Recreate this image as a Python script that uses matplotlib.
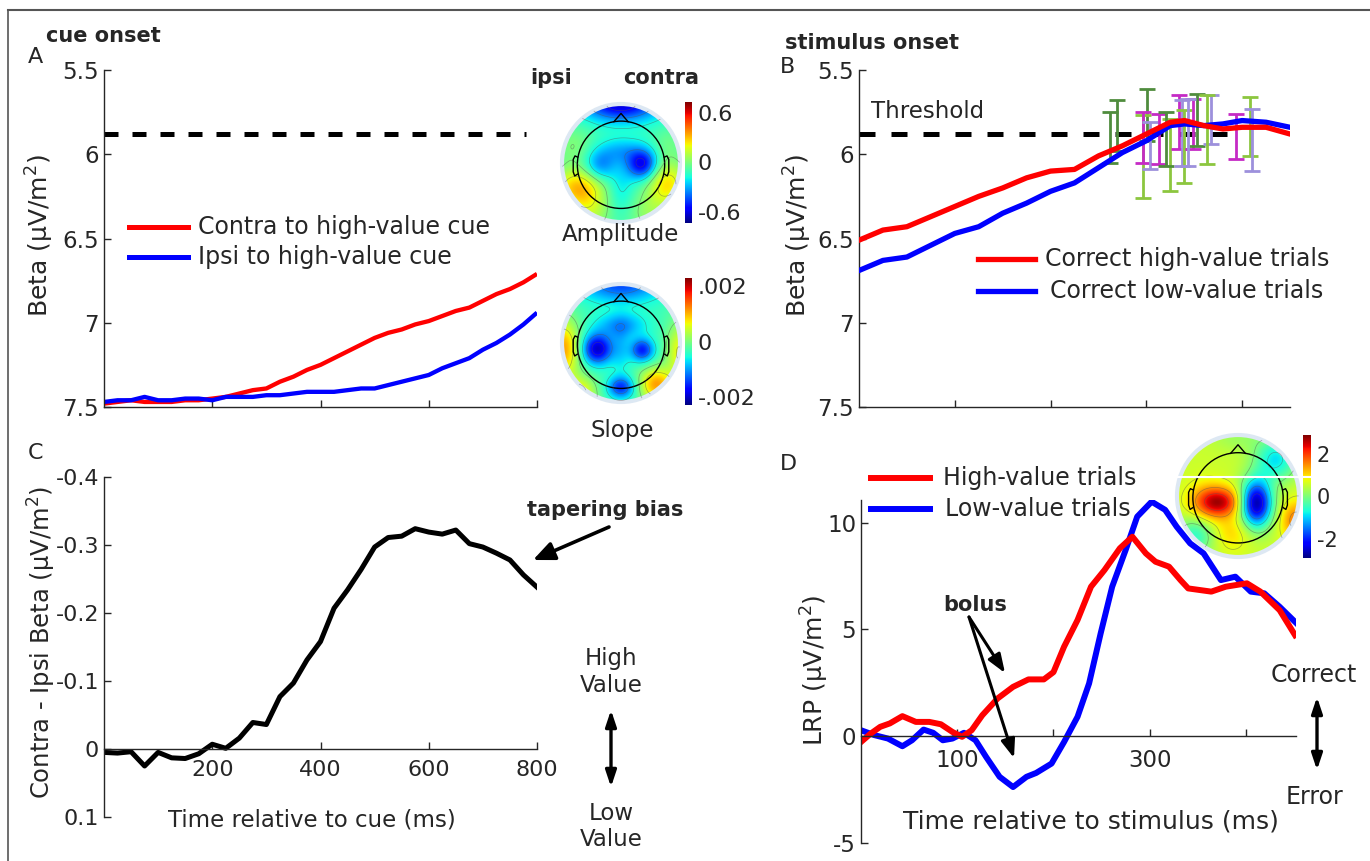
import numpy as np
import matplotlib
matplotlib.use('Agg')
import matplotlib.pyplot as plt
from matplotlib.lines import Line2D
from matplotlib.patches import Circle, FancyArrowPatch

# ---------------- data ----------------
cue_time = [0, 25, 50, 75, 100, 125, 150, 175, 200, 225, 250, 275, 300, 325, 350, 375, 400,
            425, 450, 475, 500, 525, 550, 575, 600, 625, 650, 675, 700, 725, 750, 775, 800]
contra_beta = [7.48, 7.47, 7.46, 7.47, 7.47, 7.47, 7.46, 7.46, 7.45, 7.44, 7.42, 7.40, 7.39,
               7.35, 7.32, 7.28, 7.25, 7.21, 7.17, 7.13, 7.09, 7.06, 7.04, 7.01, 6.99, 6.96,
               6.93, 6.91, 6.87, 6.83, 6.80, 6.76, 6.71]
ipsi_beta = [7.47, 7.46, 7.46, 7.44, 7.46, 7.46, 7.45, 7.45, 7.46, 7.44, 7.44, 7.44, 7.43,
             7.43, 7.42, 7.41, 7.41, 7.41, 7.40, 7.39, 7.39, 7.37, 7.35, 7.33, 7.31, 7.27,
             7.24, 7.21, 7.16, 7.12, 7.07, 7.01, 6.94]
contra_minus_ipsi = [0.005, 0.006, 0.004, 0.025, 0.005, 0.013, 0.014, 0.007, -0.007, -0.001,
                     -0.016, -0.039, -0.036, -0.077, -0.097, -0.131, -0.158, -0.207, -0.234,
                     -0.264, -0.297, -0.311, -0.313, -0.324, -0.319, -0.316, -0.322, -0.302,
                     -0.297, -0.288, -0.278, -0.256, -0.238]
threshold = 5.88

stim_time = [0, 25, 50, 75, 100, 125, 150, 175, 200, 225, 250, 275, 300, 325, 340, 360,
             380, 400, 425, 450]
high_value_beta = [6.51, 6.45, 6.43, 6.37, 6.31, 6.25, 6.20, 6.14, 6.10, 6.09, 6.01, 5.95,
                   5.88, 5.81, 5.80, 5.83, 5.85, 5.84, 5.84, 5.88]
low_value_beta = [6.69, 6.63, 6.61, 6.54, 6.47, 6.43, 6.35, 6.29, 6.22, 6.17, 6.08, 5.99,
                  5.92, 5.83, 5.82, 5.83, 5.82, 5.80, 5.81, 5.84]

eb_time = [262, 269, 301, 297, 297, 304, 313, 325, 321, 334, 337, 339, 349, 353, 344, 367,
           363, 394, 408, 410]
eb_low = [5.75, 5.68, 5.61, 5.77, 5.75, 5.81, 5.76, 5.79, 5.75, 5.65, 5.68, 5.74, 5.67,
          5.64, 5.67, 5.65, 5.65, 5.76, 5.66, 5.73]
eb_high = [6.05, 5.98, 5.92, 6.26, 6.05, 6.09, 6.06, 6.22, 6.07, 5.97, 6.07, 6.17, 5.97,
           5.95, 6.07, 5.94, 6.06, 6.03, 6.01, 6.10]
eb_group = ['dg', 'dg', 'dg', 'lg', 'mg', 'lv', 'mg', 'lg', 'dg', 'mg', 'lv', 'lg', 'mg',
            'dg', 'lv', 'lv', 'lg', 'mg', 'lg', 'lv']

lrp_high_t = [0, 10, 20, 30, 43, 57, 71, 83, 95, 105, 115, 126, 142, 158, 174, 190, 200, 211,
              225, 239, 253, 269, 282, 296, 306, 320, 332, 340, 364, 379, 401, 415, 435, 451]
lrp_high = [-0.27, 0.12, 0.44, 0.6, 0.94, 0.67, 0.67, 0.56, 0.2, -0.03, 0.28, 0.98, 1.77,
            2.31, 2.66, 2.66, 3.0, 4.19, 5.44, 7.0, 7.78, 8.8, 9.34, 8.56, 8.17, 7.94, 7.31,
            6.92, 6.77, 7.0, 7.16, 6.77, 5.9, 4.73]
lrp_low_t = [0, 14, 28, 43, 53, 65, 75, 85, 95, 107, 119, 130, 144, 158, 172, 182, 198, 211,
             225, 237, 249, 261, 275, 287, 302, 316, 328, 342, 356, 374, 389, 405, 419, 435, 452]
lrp_low = [0.28, 0.05, -0.11, -0.47, -0.19, 0.31, 0.16, -0.19, -0.11, 0.16, -0.19, -0.97,
           -1.9, -2.38, -1.9, -1.72, -1.28, -0.27, 0.91, 2.47, 4.81, 7.0, 8.72, 10.28, 10.98,
           10.6, 9.81, 9.03, 8.56, 7.31, 7.47, 6.77, 6.69, 6.06, 5.31]

# scalp-map components: x, y, amplitude, sigma_x, sigma_y (plot radius = 1)
amp_bx = [0.0, -0.36, 0.36, 0.0, 0.0, -0.72, 0.78, -0.5, 0.45, -0.8, 0.8]
amp_by = [1.0, -0.04, -0.02, 0.2, -0.45, -0.42, -0.35, -0.85, -0.85, 0.3, 0.35]
amp_ba = [-0.5, -0.25, -0.48, -0.15, -0.1, 0.42, 0.36, 0.18, 0.14, 0.12, 0.08]
amp_sx = [0.45, 0.19, 0.18, 0.25, 0.15, 0.3, 0.25, 0.25, 0.25, 0.25, 0.2]
amp_sy = [0.2, 0.19, 0.18, 0.15, 0.3, 0.24, 0.28, 0.25, 0.25, 0.25, 0.2]
amp_base = -0.12
amp_lim = 0.73

slope_bx = [0.0, -0.4, 0.36, 0.0, 0.0, 0.0, -0.98, 0.6, -0.7, 0.98]
slope_by = [1.0, -0.1, -0.12, -0.75, 0.3, -0.1, -0.1, -0.7, -0.85, -0.15]
slope_ba = [-0.0011, -0.0017, -0.0013, -0.0012, -0.0007, -0.0004, 0.0014, 0.0014, 0.0010, 0.0009]
slope_sx = [0.5, 0.18, 0.14, 0.16, 0.3, 0.12, 0.2, 0.2, 0.2, 0.15]
slope_sy = [0.22, 0.18, 0.14, 0.13, 0.15, 0.3, 0.35, 0.2, 0.2, 0.35]
slope_base = -0.0003
slope_lim = 0.0023

lrp_bx = [-0.3, 0.3, 0.62, -0.7, 0.95, -0.1, -0.55, 0.0]
lrp_by = [-0.1, -0.12, 0.6, -0.65, -0.4, -0.6, -0.1, 0.95]
lrp_ba = [1.9, -3.25, -1.4, -1.1, 1.1, 0.5, 0.5, -0.3]
lrp_sx = [0.25, 0.18, 0.25, 0.22, 0.17, 0.22, 0.22, 0.3]
lrp_sy = [0.17, 0.27, 0.25, 0.22, 0.22, 0.2, 0.25, 0.15]
lrp_base = 0.55
lrp_lim = 2.9

# ---------------- figure ----------------
plt.rcParams['font.family'] = ['DejaVu Sans']
plt.rcParams['axes.unicode_minus'] = False
W, H = 1370, 861
fig = plt.figure(figsize=(W / 100, H / 100), dpi=100)
TXT = '#262626'
EB_COLORS = {'dg': '#4f8c3d', 'lg': '#8cc63f', 'mg': '#c52ac5', 'lv': '#9d90dc'}


def rect(l, t, r, b):
    return [l / W, 1 - b / H, (r - l) / W, (b - t) / H]


def ftext(x, y, s, **kw):
    kw.setdefault('color', TXT)
    fig.text(x / W, 1 - y / H, s, **kw)


def fline(x0, y0, x1, y1, **kw):
    fig.add_artist(Line2D([x0 / W, x1 / W], [1 - y0 / H, 1 - y1 / H], transform=fig.transFigure, **kw))


def farrow(x0, y0, x1, y1, style, lw=2.2, ms=14):
    fig.add_artist(FancyArrowPatch((x0 / W, 1 - y0 / H), (x1 / W, 1 - y1 / H),
                                   transform=fig.transFigure, arrowstyle=style,
                                   mutation_scale=ms, lw=lw, color='k',
                                   shrinkA=0, shrinkB=0))


def style_axes(ax, size=16.5):
    for s in ['top', 'right']:
        ax.spines[s].set_visible(False)
    for s in ['left', 'bottom']:
        ax.spines[s].set_color(TXT)
        ax.spines[s].set_linewidth(1.0)
    ax.tick_params(direction='in', length=5, width=1, colors=TXT, labelsize=size)


def topo(cx, cy, r, bx, by, ba, sx, sy, base, lim):
    size = 2 * r * 1.06
    ax = fig.add_axes(rect(cx - size / 2, cy - size / 2, cx + size / 2, cy + size / 2))
    g = np.linspace(-1.06, 1.06, 320)
    X, Y = np.meshgrid(g, g)
    Z = np.full_like(X, base)
    for x0, y0, a, s1, s2 in zip(bx, by, ba, sx, sy):
        Z = Z + a * np.exp(-((X - x0) ** 2 / (2 * s1 ** 2) + (Y - y0) ** 2 / (2 * s2 ** 2)))
    Zm = np.ma.masked_where(np.hypot(X, Y) > 1.0, Z)
    ax.imshow(Zm, extent=(-1.06, 1.06, -1.06, 1.06), origin='lower', cmap='jet',
              vmin=-lim, vmax=lim, interpolation='bilinear')
    ax.contour(X, Y, Zm, levels=np.linspace(-lim, lim, 9), colors='#555555',
               linewidths=0.5, alpha=0.5, linestyles='solid')
    ax.add_patch(Circle((0, 0), 1.0, fill=False, ec='#dde8f3', lw=3))
    hr, hc = 0.74, -0.03
    ax.add_patch(Circle((0, hc), hr, fill=False, ec='k', lw=1.0))
    ax.plot([-0.12, 0.0, 0.12], [hc + hr - 0.01, hc + hr + 0.13, hc + hr - 0.01], color='k', lw=1.0)
    ex = np.array([-0.735, -0.78, -0.81, -0.81, -0.785, -0.74])
    ey = np.array([0.13, 0.15, 0.09, -0.12, -0.19, -0.16]) + hc
    ax.plot(ex, ey, color='k', lw=1.0)
    ax.plot(-ex, ey, color='k', lw=1.0)
    ax.set_xlim(-1.06, 1.06)
    ax.set_ylim(-1.06, 1.06)
    ax.axis('off')


def cbar(l, t, r, b, lim, ticks, labels, size):
    cax = fig.add_axes(rect(l, t, r, b))
    grad = np.linspace(-lim, lim, 256).reshape(-1, 1)
    cax.imshow(grad, extent=(0, 1, -lim, lim), origin='lower', aspect='auto', cmap='jet',
               vmin=-lim, vmax=lim)
    cax.set_xlim(0, 1)
    cax.set_ylim(-lim, lim)
    cax.set_xticks([])
    cax.yaxis.tick_right()
    cax.set_yticks(ticks)
    cax.set_yticklabels(labels)
    cax.tick_params(axis='y', length=0, pad=4, labelsize=size, colors=TXT)
    for s in cax.spines.values():
        s.set_visible(False)


# figure frame
fline(8, 10, W, 10, color='#555555', lw=1.5)
fline(8, 10, 8, H, color='#555555', lw=1.2)

# ---------------- Panel A ----------------
axA = fig.add_axes(rect(104, 70, 537, 407))
axA.plot(cue_time, contra_beta, color='red', lw=3.1, solid_capstyle='butt')
axA.plot(cue_time, ipsi_beta, color='blue', lw=3.1, solid_capstyle='butt')
axA.plot([0, 780], [threshold, threshold], color='k', lw=3.6, ls=(0, (2.8, 2.8)))
axA.set_xlim(0, 800)
axA.set_ylim(7.5, 5.5)
axA.set_xticks([200, 400, 600, 800])
axA.set_xticklabels([])
axA.set_yticks([5.5, 6, 6.5, 7, 7.5])
axA.set_yticklabels(['5.5', '6', '6.5', '7', '7.5'])
style_axes(axA)
ftext(40, 236, 'Beta (μV/m$^2$)', rotation=90, ha='center', va='center', fontsize=18)
ftext(28, 57, 'A', ha='left', va='center', fontsize=16)
ftext(46, 36, 'cue onset', ha='left', va='center', fontsize=15, fontweight='bold')
fline(129, 227, 188, 227, color='red', lw=3.6)
fline(129, 257, 188, 257, color='blue', lw=3.6)
ftext(198, 227, 'Contra to high-value cue', ha='left', va='center', fontsize=17)
ftext(198, 257, 'Ipsi to high-value cue', ha='left', va='center', fontsize=17)

ftext(551, 78, 'ipsi', ha='center', va='center', fontsize=15, fontweight='bold')
ftext(661, 78, 'contra', ha='center', va='center', fontsize=15, fontweight='bold')
topo(621, 163, 59, amp_bx, amp_by, amp_ba, amp_sx, amp_sy, amp_base, amp_lim)
cbar(685, 102, 692, 223, amp_lim, [-0.6, 0, 0.6], ['-0.6', '0', '0.6'], 16)
ftext(621, 234, 'Amplitude', ha='center', va='center', fontsize=16.5)
topo(621, 343, 59, slope_bx, slope_by, slope_ba, slope_sx, slope_sy, slope_base, slope_lim)
cbar(685, 278, 692, 405, slope_lim, [-0.002, 0, 0.002], ['-.002', '0', '.002'], 16)
ftext(622, 430, 'Slope', ha='center', va='center', fontsize=16.5)

# ---------------- Panel B ----------------
axB = fig.add_axes(rect(859, 70, 1290, 407))
for t, lo, hi, gname in zip(eb_time, eb_low, eb_high, eb_group):
    c = (lo + hi) / 2
    axB.errorbar([t], [c], yerr=[[c - lo], [hi - c]], fmt='none', ecolor=EB_COLORS[gname],
                 elinewidth=2, capsize=6, capthick=2, zorder=2)
axB.plot([0, 400], [threshold, threshold], color='k', lw=3.6, ls=(0, (3.2, 3.2)), zorder=1)
axB.plot(stim_time, low_value_beta, color='blue', lw=3.8, zorder=3)
axB.plot(stim_time, high_value_beta, color='red', lw=3.8, zorder=3)
axB.set_xlim(0, 450)
axB.set_ylim(7.5, 5.5)
axB.set_xticks([100, 200, 300, 400])
axB.set_xticklabels([])
axB.set_yticks([5.5, 6, 6.5, 7, 7.5])
axB.set_yticklabels(['5.5', '6', '6.5', '7', '7.5'])
style_axes(axB)
ftext(798, 236, 'Beta (μV/m$^2$)', rotation=90, ha='center', va='center', fontsize=18)
ftext(780, 67, 'B', ha='left', va='center', fontsize=16)
ftext(785, 43, 'stimulus onset', ha='left', va='center', fontsize=15, fontweight='bold')
ftext(871, 112, 'Threshold', ha='left', va='center', fontsize=16.5)
fline(978, 259, 1035, 259, color='red', lw=3.8)
fline(978, 291, 1035, 291, color='blue', lw=3.8)
ftext(1045, 259, 'Correct high-value trials', ha='left', va='center', fontsize=17)
ftext(1050, 291, 'Correct low-value trials', ha='left', va='center', fontsize=17)

# ---------------- Panel C ----------------
axC = fig.add_axes(rect(104, 477, 537, 817))
axC.plot(cue_time, contra_minus_ipsi, color='k', lw=3.6)
axC.set_xlim(0, 800)
axC.set_ylim(0.1, -0.4)
axC.set_xticks([200, 400, 600, 800])
axC.set_xticklabels(['200', '400', '600', '800'])
axC.set_yticks([-0.4, -0.3, -0.2, -0.1, 0, 0.1])
axC.set_yticklabels(['-0.4', '-0.3', '-0.2', '-0.1', '0', '0.1'])
style_axes(axC, 16)
axC.spines['bottom'].set_position(('data', 0))
axC.tick_params(axis='x', pad=8)
ftext(42, 642, 'Contra - Ipsi Beta (μV/m$^2$)', rotation=90, ha='center', va='center', fontsize=17.5)
ftext(312, 820, 'Time relative to cue (ms)', ha='center', va='center', fontsize=16.5)
ftext(28, 453, 'C', ha='left', va='center', fontsize=16)
ftext(605, 510, 'tapering bias', ha='center', va='center', fontsize=15, fontweight='bold')
farrow(609, 527, 533, 560, '-|>,head_length=0.8,head_width=0.35', lw=2.6, ms=16)
ftext(611, 658, 'High', ha='center', va='center', fontsize=16.5)
ftext(611, 685, 'Value', ha='center', va='center', fontsize=16.5)
farrow(611, 710, 611, 787, '<|-|>,head_length=0.6,head_width=0.2', lw=2.4, ms=16)
ftext(611, 814, 'Low', ha='center', va='center', fontsize=16.5)
ftext(611, 840, 'Value', ha='center', va='center', fontsize=16.5)

# ---------------- Panel D ----------------
axD = fig.add_axes(rect(861, 500, 1296, 843))
axD.plot(lrp_low_t, lrp_low, color='blue', lw=4.3)
axD.plot(lrp_high_t, lrp_high, color='red', lw=4.3)
axD.set_xlim(0, 452)
axD.set_ylim(-5, 11.06)
axD.set_xticks([100, 200, 300, 400])
axD.set_xticklabels(['100', '', '300', ''])
axD.set_yticks([-5, 0, 5, 10])
axD.set_yticklabels(['-5', '0', '5', '10'])
style_axes(axD, 16.5)
axD.spines['bottom'].set_position(('data', 0))
axD.tick_params(axis='x', pad=9)
ftext(815, 670, 'LRP (μV/m$^2$)', rotation=90, ha='center', va='center', fontsize=18)
ftext(1091, 821, 'Time relative to stimulus (ms)', ha='center', va='center', fontsize=18)
ftext(780, 464, 'D', ha='left', va='center', fontsize=16)
fline(871, 478, 930, 478, color='red', lw=4.3)
fline(871, 509, 930, 509, color='blue', lw=4.3)
ftext(943, 478, 'High-value trials', ha='left', va='center', fontsize=17)
ftext(945, 509, 'Low-value trials', ha='left', va='center', fontsize=17)
ftext(975, 605, 'bolus', ha='center', va='center', fontsize=15, fontweight='bold')
farrow(969, 617, 1005, 673, '-|>,head_length=0.8,head_width=0.3', lw=2.2, ms=14)
farrow(969, 617, 1014, 758, '-|>,head_length=0.8,head_width=0.3', lw=2.2, ms=14)
ftext(1314, 675, 'Correct', ha='center', va='center', fontsize=17)
farrow(1317, 697, 1317, 770, '<|-|>,head_length=0.6,head_width=0.2', lw=2.4, ms=16)
ftext(1315, 797, 'Error', ha='center', va='center', fontsize=17)

topo(1238, 496, 61, lrp_bx, lrp_by, lrp_ba, lrp_sx, lrp_sy, lrp_base, lrp_lim)
cbar(1303, 435, 1311, 558, lrp_lim, [-2, 0, 2], ['-2', '0', '2'], 15)
fline(1178, 477, 1312, 477, color='white', lw=1.5, zorder=20)

fig.savefig('out.png', dpi=100)
